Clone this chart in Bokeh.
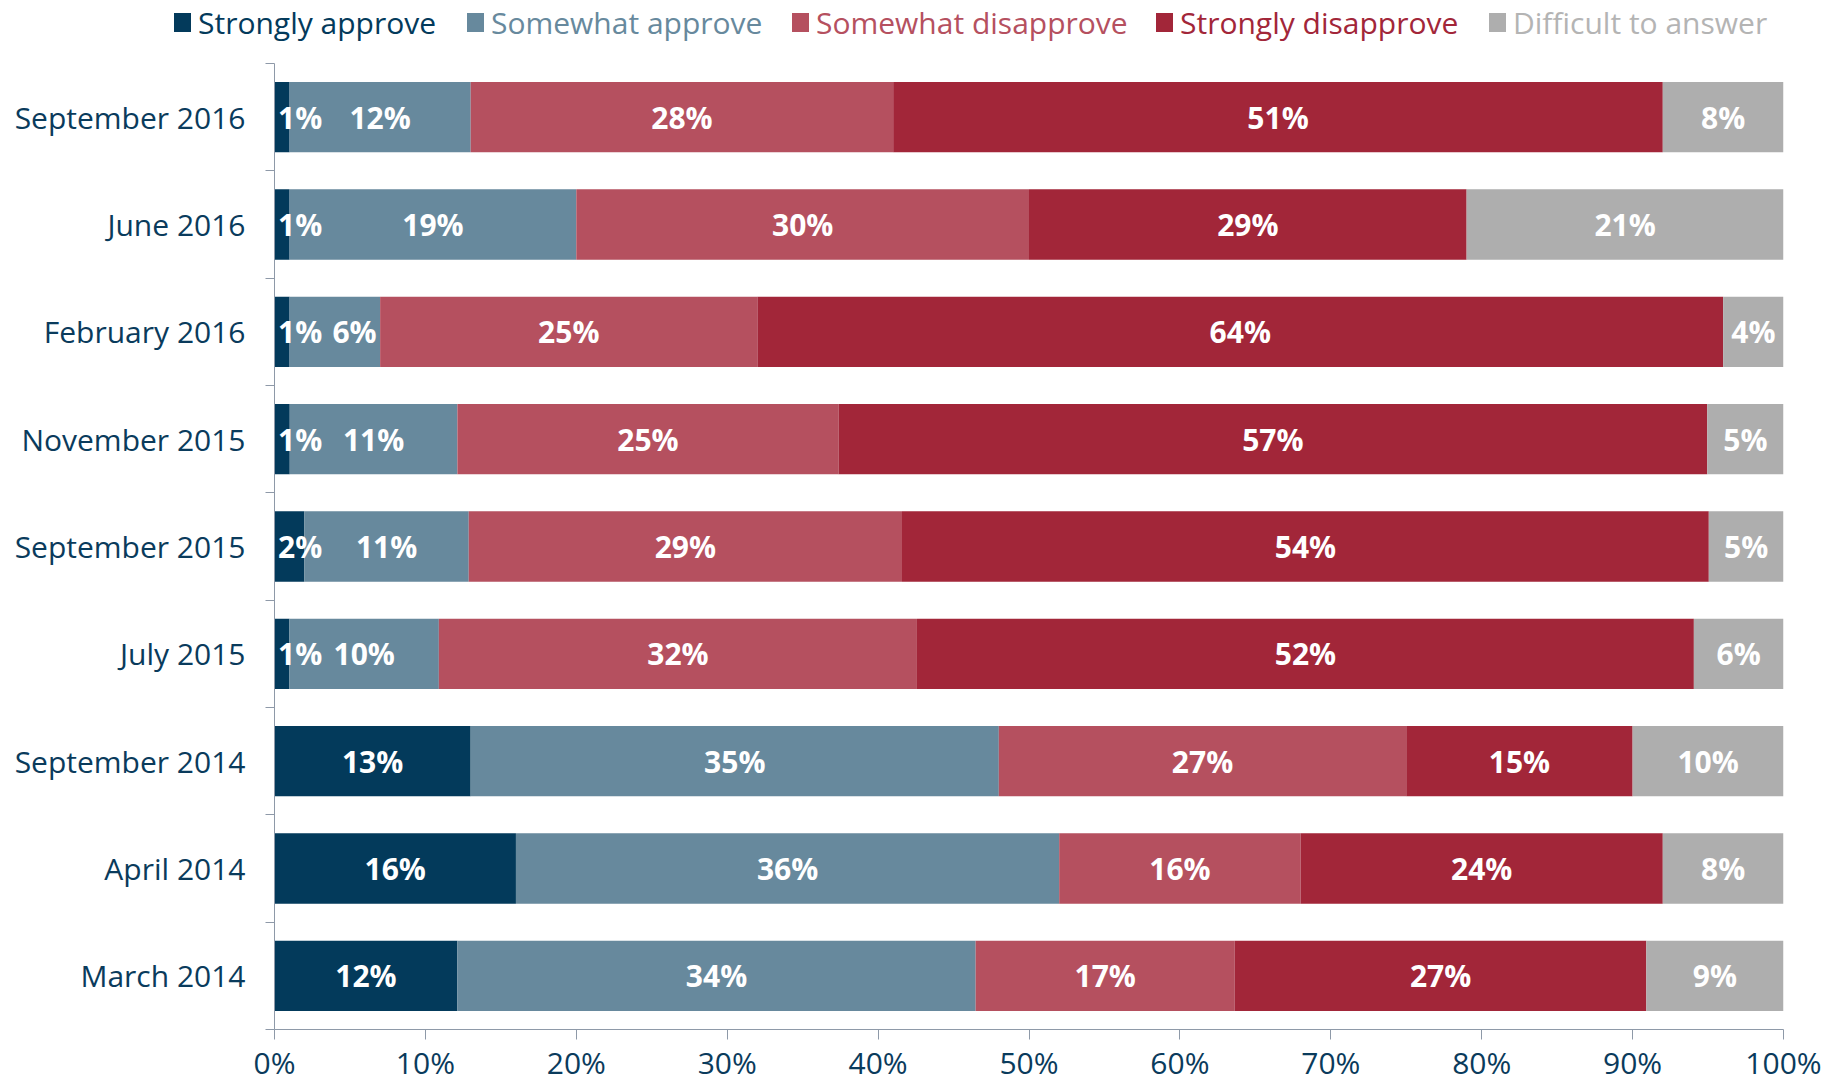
from bokeh.plotting import figure
from bokeh.layouts import column
from bokeh.models import (ColumnDataSource, Range1d, FixedTicker, PrintfTickFormatter, Div)
from bokeh.core.properties import value
from bokeh.embed import file_html
from bokeh.resources import INLINE

# ---------------- data (top to bottom as shown) ----------------
surveys = ["September 2016", "June 2016", "February 2016", "November 2015",
           "September 2015", "July 2015", "September 2014", "April 2014", "March 2014"]
strongly_approve    = [1, 1, 1, 1, 2, 1, 13, 16, 12]
somewhat_approve    = [12, 19, 6, 11, 11, 10, 35, 36, 34]
somewhat_disapprove = [28, 30, 25, 25, 29, 32, 27, 16, 17]
strongly_disapprove = [51, 29, 64, 57, 54, 52, 15, 24, 27]
difficult           = [8, 21, 4, 5, 5, 6, 10, 8, 9]

series_names = ["Strongly approve", "Somewhat approve", "Somewhat disapprove",
                "Strongly disapprove", "Difficult to answer"]
series_vals = [strongly_approve, somewhat_approve, somewhat_disapprove,
               strongly_disapprove, difficult]
colors = ["#033A5B", "#67899D", "#B5505F", "#A22639", "#AEAEAE"]
legend_text_colors = ["#033A5B", "#67899D", "#B5505F", "#A22639", "#B4B4B4"]
legend_x = [174, 467, 792, 1156, 1489]      # legend entry positions (px)

FONT = "Open Sans"
TEXT_COLOR = "#0A3B5C"
AXIS_COLOR = "#8E99A8"
W = 1833
LEG_H = 58

n = len(surveys)
ypos = [n - 1 - i for i in range(n)]           # top row is highest
totals = [sum(v[i] for v in series_vals) for i in range(n)]

# ---------------- main chart ----------------
p = figure(width=W, height=1085 - LEG_H, output_backend="svg", toolbar_location=None,
           x_range=Range1d(0, 100), y_range=Range1d(-0.5, n - 0.5),
           min_border_left=274, min_border_right=50, min_border_top=5,
           min_border_bottom=54)
p.outline_line_color = None
p.xgrid.grid_line_color = None
p.ygrid.grid_line_color = None

left = [0.0] * n
prev_lab = [0.0] * n
label_x, label_y, label_t = [], [], []
for k, (name, vals, col) in enumerate(zip(series_names, series_vals, colors)):
    w = [vals[i] * 100.0 / totals[i] for i in range(n)]
    right = [left[i] + w[i] for i in range(n)]
    src = ColumnDataSource(dict(y=ypos, left=left, right=right))
    p.hbar(y="y", left="left", right="right", height=0.655, source=src,
           fill_color=col, line_color=None, legend_label=name)
    for i in range(n):
        cx = (left[i] + right[i]) / 2
        if k == 0:
            cx = max(cx, 1.7)                 # keep tiny-segment labels readable
        elif k == 1:
            cx = max(cx, prev_lab[i] + 3.6)   # avoid collision with the label before
        prev_lab[i] = cx
        label_x.append(cx)
        label_y.append(ypos[i])
        label_t.append(f"{vals[i]}%")
    left = right

# the in-plot legend is hidden; a coloured legend strip is drawn above the plot
p.legend.visible = False

lab_src = ColumnDataSource(dict(x=label_x, y=label_y, t=label_t))
p.text(x="x", y="y", text="t", source=lab_src, text_color="white",
       text_font=value(FONT), text_font_style="bold", text_font_size="30px",
       text_align="center", text_baseline="middle")

# x axis
xa = p.xaxis[0]
xa.ticker = FixedTicker(ticks=list(range(0, 101, 10)))
xa.formatter = PrintfTickFormatter(format="%d%%")
xa.axis_line_color = AXIS_COLOR
xa.major_tick_line_color = AXIS_COLOR
xa.major_tick_out = 10
xa.major_tick_in = 0
xa.minor_tick_line_color = None
xa.major_label_text_font = FONT
xa.major_label_text_font_size = "30px"
xa.major_label_text_color = TEXT_COLOR
xa.major_label_standoff = 2

# y axis: labels at bar centres, ticks at category boundaries
ya = p.yaxis[0]
ya.ticker = FixedTicker(ticks=ypos, minor_ticks=[k - 0.5 for k in range(n + 1)])
ya.major_label_overrides = {ypos[i]: surveys[i] for i in range(n)}
ya.axis_line_color = AXIS_COLOR
ya.major_tick_line_color = None
ya.major_tick_out = 0
ya.major_tick_in = 0
ya.minor_tick_line_color = AXIS_COLOR
ya.minor_tick_out = 9
ya.minor_tick_in = 0
ya.major_label_text_font = FONT
ya.major_label_text_font_size = "30px"
ya.major_label_text_color = TEXT_COLOR
ya.major_label_standoff = 20

# ---------------- legend strip (each entry in its own colour) ----------------
parts = []
for name, col, tc, lx in zip(series_names, colors, legend_text_colors, legend_x):
    parts.append(
        f'<div style="position:absolute;left:{lx}px;top:13px;width:17px;height:19px;'
        f'background:{col};"></div>'
        f'<div style="position:absolute;left:{lx + 24}px;top:8px;color:{tc};'
        f'line-height:30px;white-space:nowrap;">{name}</div>')
legend_html = (f'<div style="position:relative;width:{W}px;height:{LEG_H}px;'
               f'font-family:\'{FONT}\';font-size:30px;">' + "".join(parts) + '</div>')
legend_div = Div(text=legend_html, width=W, height=LEG_H, margin=(0, 0, 0, 0))

layout = column(legend_div, p, spacing=0)
open("out.html", "w").write(file_html(layout, INLINE))
